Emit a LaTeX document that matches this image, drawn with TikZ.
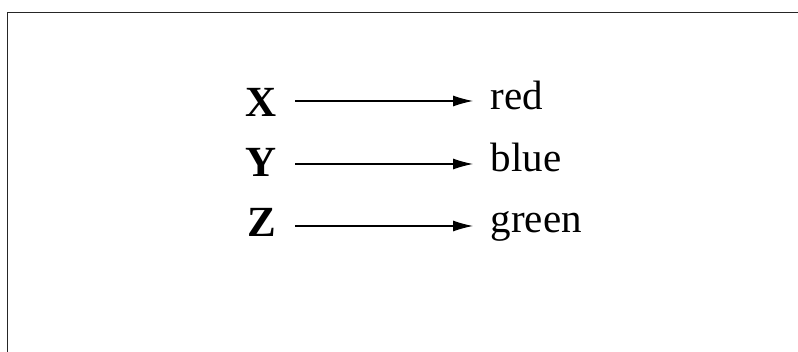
\documentclass[tikz,border=0pt]{standalone}
\usepackage{fontspec}
\setmainfont{Liberation Serif}
\usetikzlibrary{arrows.meta,calc}
\begin{document}
\begin{tikzpicture}[x=1pt,y=1pt,
  lhs/.style={font=\fontsize{43}{50}\selectfont\bfseries, inner sep=0pt, anchor=base},
  rhs/.style={font=\fontsize{41}{48}\selectfont, inner sep=0pt, anchor=base west},
  arr/.style={line width=1.1pt, -{Latex[length=20pt,width=11pt]}},
  frame/.style={line width=1.7pt, draw=black!85}]
\useasboundingbox (0,0) rectangle (798,-352);
\draw[frame] (799,-12.5) -- (7.5,-12.5) -- (7.5,-353);
\node[lhs] (X) at (261.5,-116.7) {X};
\node[lhs] (Y) at (261.5,-177) {Y};
\node[lhs] (Z) at (261.5,-236.5) {Z};
\node[rhs] (red) at (490.5,-109.5) {red};
\node[rhs] (blue) at (490.5,-171.7) {blue};
\node[rhs] (green) at (490.5,-233) {green};
\draw[arr] ($(X.base)+(33.5,15.7)$) -- ($(red.base west)+(-17.5,8.5)$);
\draw[arr] ($(Y.base)+(33.5,13)$) -- ($(blue.base west)+(-17.5,7.7)$);
\draw[arr] ($(Z.base)+(33.5,10.5)$) -- ($(green.base west)+(-17.5,7)$);
\end{tikzpicture}
\end{document}
